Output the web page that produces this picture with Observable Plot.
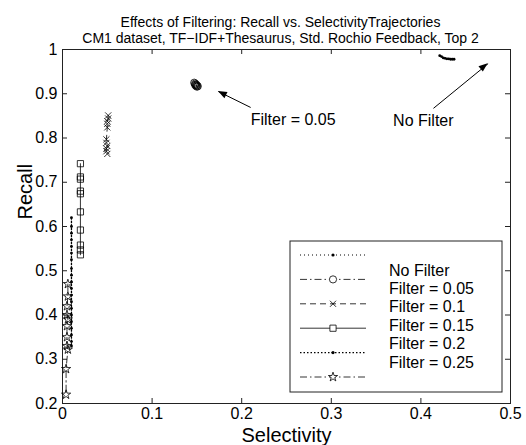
<!DOCTYPE html>
<html>
<head>
<meta charset="utf-8">
<script src="https://cdn.jsdelivr.net/npm/d3@7"></script>
<script src="https://cdn.jsdelivr.net/npm/@observablehq/plot@0.6"></script>
<style>
  html, body { margin: 0; padding: 0; background: white; }
</style>
</head>
<body>
<div id="chart"></div>
<script>
// ---------- data ----------
const titleLines = [
  "Effects of Filtering: Recall vs. SelectivityTrajectories",
  "CM1 dataset, TF\u2212IDF+Thesaurus, Std. Rochio Feedback, Top 2"
];
const xLabel = "Selectivity";
const yLabel = "Recall";
const xTicks = [0, 0.1, 0.2, 0.3, 0.4, 0.5];
const yTicks = [0.2, 0.3, 0.4, 0.5, 0.6, 0.7, 0.8, 0.9, 1];

const seriesNames = ["No Filter", "Filter = 0.05", "Filter = 0.1", "Filter = 0.15", "Filter = 0.2", "Filter = 0.25"];

const noFilterSel = [0.421, 0.423, 0.425, 0.427, 0.429, 0.431, 0.433, 0.435, 0.437];
const noFilterRec = [0.986, 0.984, 0.981, 0.980, 0.979, 0.979, 0.978, 0.978, 0.978];

const f005Sel = [0.147, 0.148, 0.149, 0.150, 0.151, 0.150, 0.149, 0.148];
const f005Rec = [0.925, 0.923, 0.921, 0.919, 0.917, 0.916, 0.918, 0.920];

const f010Sel = [0.051, 0.051, 0.050, 0.050, 0.050, 0.049, 0.049, 0.050, 0.049, 0.049, 0.050];
const f010Rec = [0.851, 0.844, 0.838, 0.832, 0.824, 0.797, 0.789, 0.782, 0.776, 0.770, 0.764];

const f015Sel = [0.020, 0.020, 0.020, 0.020, 0.020, 0.020, 0.020, 0.020, 0.020, 0.020];
const f015Rec = [0.742, 0.712, 0.707, 0.680, 0.674, 0.633, 0.592, 0.558, 0.547, 0.536];

const f020Sel = [0.010, 0.010, 0.010, 0.010, 0.010, 0.010, 0.010, 0.010, 0.010, 0.010, 0.010, 0.010, 0.010, 0.010, 0.010, 0.010, 0.010, 0.010, 0.010, 0.010];
const f020Rec = [0.620, 0.600, 0.585, 0.570, 0.555, 0.540, 0.525, 0.505, 0.490, 0.475, 0.460, 0.445, 0.430, 0.415, 0.400, 0.385, 0.370, 0.355, 0.340, 0.330];

const f025Sel = [0.006, 0.006, 0.005, 0.005, 0.006, 0.005, 0.005, 0.005, 0.006, 0.004, 0.004];
const f025Rec = [0.470, 0.442, 0.420, 0.400, 0.390, 0.375, 0.350, 0.330, 0.322, 0.278, 0.220];

const annTexts = ["Filter = 0.05", "No Filter"];
const annTextX = [0.210, 0.369];
const annTextY = [0.842, 0.838];
const annArrowX1 = [0.210, 0.414];
const annArrowY1 = [0.869, 0.867];
const annArrowX2 = [0.174, 0.475];
const annArrowY2 = [0.905, 0.968];

// ---------- build ----------
const selArrays = [noFilterSel, f005Sel, f010Sel, f015Sel, f020Sel, f025Sel];
const recArrays = [noFilterRec, f005Rec, f010Rec, f015Rec, f020Rec, f025Rec];
const series = seriesNames.map((name, i) => ({
  name,
  rows: selArrays[i].map((x, j) => ({x, y: recArrays[i][j], series: name}))
}));

const styles = [
  {dash: "1,3", width: 1, symbol: "dot", r: 1.4},
  {dash: "7,3,1.5,3", width: 0.8, symbol: "circle", r: 3.6},
  {dash: "6,4", width: 0.8, symbol: "times", r: 2.9},
  {dash: null, width: 0.8, symbol: "square", r: 3.5},
  {dash: "1.5,2", width: 1.3, symbol: "dot", r: 1.4},
  {dash: "7,3,1.5,3", width: 0.8, symbol: "star", r: 2.9}
];

const W = 526, H = 445;
const mL = 62, mR = 16, mT = 49, mB = 42;
const tickPxX = 0.5 / (W - mL - mR) * 5;
const tickPxY = 0.8 / (H - mT - mB) * 5;

const marks = [];
marks.push(Plot.frame({stroke: "#222", strokeWidth: 1}));
const xt = xTicks.slice(1, -1), yt = yTicks.slice(1, -1);
marks.push(Plot.ruleX(xt, {x: d => d, y1: 0.2, y2: 0.2 + tickPxY, stroke: "#222"}));
marks.push(Plot.ruleX(xt, {x: d => d, y1: 1, y2: 1 - tickPxY, stroke: "#222"}));
marks.push(Plot.ruleY(yt, {y: d => d, x1: 0, x2: tickPxX, stroke: "#222"}));
marks.push(Plot.ruleY(yt, {y: d => d, x1: 0.5, x2: 0.5 - tickPxX, stroke: "#222"}));
marks.push(Plot.axisX(xTicks, {tickSize: 0, tickPadding: 4, fontSize: 16, label: null, tickFormat: d => String(d)}));
marks.push(Plot.axisY(yTicks, {tickSize: 0, tickPadding: 5, fontSize: 16, label: null, tickFormat: d => String(d)}));

series.forEach((s, i) => {
  const st = styles[i];
  marks.push(Plot.line(s.rows, {x: "x", y: "y", stroke: "black", strokeWidth: st.width, strokeDasharray: st.dash || undefined}));
  if (st.symbol === "dot") {
    marks.push(Plot.dot(s.rows, {x: "x", y: "y", r: st.r, fill: "black", stroke: null}));
  } else {
    marks.push(Plot.dot(s.rows, {x: "x", y: "y", r: st.r, symbol: st.symbol, fill: "none", stroke: "black", strokeWidth: 0.8}));
  }
});

// annotations
const annRows = annTexts.map((t, i) => ({t, x: annTextX[i], y: annTextY[i], x1: annArrowX1[i], y1: annArrowY1[i], x2: annArrowX2[i], y2: annArrowY2[i]}));
marks.push(Plot.link(annRows, {x1: "x1", y1: "y1", x2: "x2", y2: "y2", stroke: "black", strokeWidth: 1}));
marks.push(Plot.text(annRows, {x: "x", y: "y", text: "t", textAnchor: "start", fontSize: 16, fill: "black"}));

// titles & axis labels
marks.push(Plot.text([titleLines[0]], {frameAnchor: "top", dx: -6, dy: -27, fontSize: 14, fill: "black", lineAnchor: "middle"}));
marks.push(Plot.text([titleLines[1]], {frameAnchor: "top", dx: -6, dy: -11, fontSize: 14, fill: "black", lineAnchor: "middle"}));
marks.push(Plot.text([xLabel], {frameAnchor: "bottom", dy: 32, fontSize: 20, fill: "black", lineAnchor: "middle"}));
marks.push(Plot.text([yLabel], {frameAnchor: "left", dx: -37, dy: -7, rotate: -90, fontSize: 20, fill: "black", lineAnchor: "middle"}));

const svg = Plot.plot({
  width: W, height: H,
  marginLeft: mL, marginRight: mR, marginTop: mT, marginBottom: mB,
  x: {domain: [0, 0.5]},
  y: {domain: [0.2, 1]},
  style: {fontFamily: "'Liberation Sans', Arial, Helvetica, sans-serif", fontSize: "16px", background: "white", color: "black"},
  marks
});

// filled arrow heads, positioned through the plot's own scales
const sx = svg.scale("x"), sy = svg.scale("y");
const root = d3.select(svg);
annRows.forEach(a => {
  const px1 = sx.apply(a.x1), py1 = sy.apply(a.y1), px2 = sx.apply(a.x2), py2 = sy.apply(a.y2);
  const ang = Math.atan2(py2 - py1, px2 - px1);
  const L = 9, hw = 3.5;
  const bx = px2 - L * Math.cos(ang), by = py2 - L * Math.sin(ang);
  const pts = [
    [px2, py2],
    [bx + hw * Math.sin(ang), by - hw * Math.cos(ang)],
    [bx - hw * Math.sin(ang), by + hw * Math.cos(ang)]
  ];
  root.append("polygon").attr("points", pts.map(p => p.join(",")).join(" ")).attr("fill", "black");
});

// ---------- legend (inside the axes, bottom-right) ----------
const g = root.append("g").attr("class", "legend");
const box = {x: 290, y: 241, w: 212, h: 151};
g.append("rect").attr("x", box.x).attr("y", box.y).attr("width", box.w).attr("height", box.h)
  .attr("fill", "white").attr("stroke", "#222").attr("stroke-width", 1);
const sampleX0 = box.x + 10, sampleX1 = box.x + 76, markX = box.x + 43;
const sampleY0 = box.y + 14, sampleDY = 24.4;
const textX = box.x + 99, textY0 = box.y + 29, textDY = 18.4;
const symMap = {circle: d3.symbolCircle, times: d3.symbolTimes, square: d3.symbolSquare, star: d3.symbolStar};
seriesNames.forEach((name, i) => {
  const st = styles[i];
  const y = sampleY0 + i * sampleDY;
  g.append("line").attr("x1", sampleX0).attr("x2", sampleX1).attr("y1", y).attr("y2", y)
    .attr("stroke", "black").attr("stroke-width", st.width)
    .attr("stroke-dasharray", st.dash || null);
  if (st.symbol === "dot") {
    g.append("circle").attr("cx", markX).attr("cy", y).attr("r", 1.6).attr("fill", "black");
  } else {
    g.append("path").attr("transform", `translate(${markX},${y})`)
      .attr("d", d3.symbol(symMap[st.symbol], st.r * st.r * Math.PI)())
      .attr("fill", "white").attr("stroke", "black").attr("stroke-width", 0.8);
  }
  g.append("text").attr("x", textX).attr("y", textY0 + i * textDY)
    .attr("dy", "0.35em").attr("text-anchor", "start")
    .attr("font-size", 16).attr("fill", "black").text(name);
});

document.getElementById("chart").appendChild(svg);
</script>
</body>
</html>
